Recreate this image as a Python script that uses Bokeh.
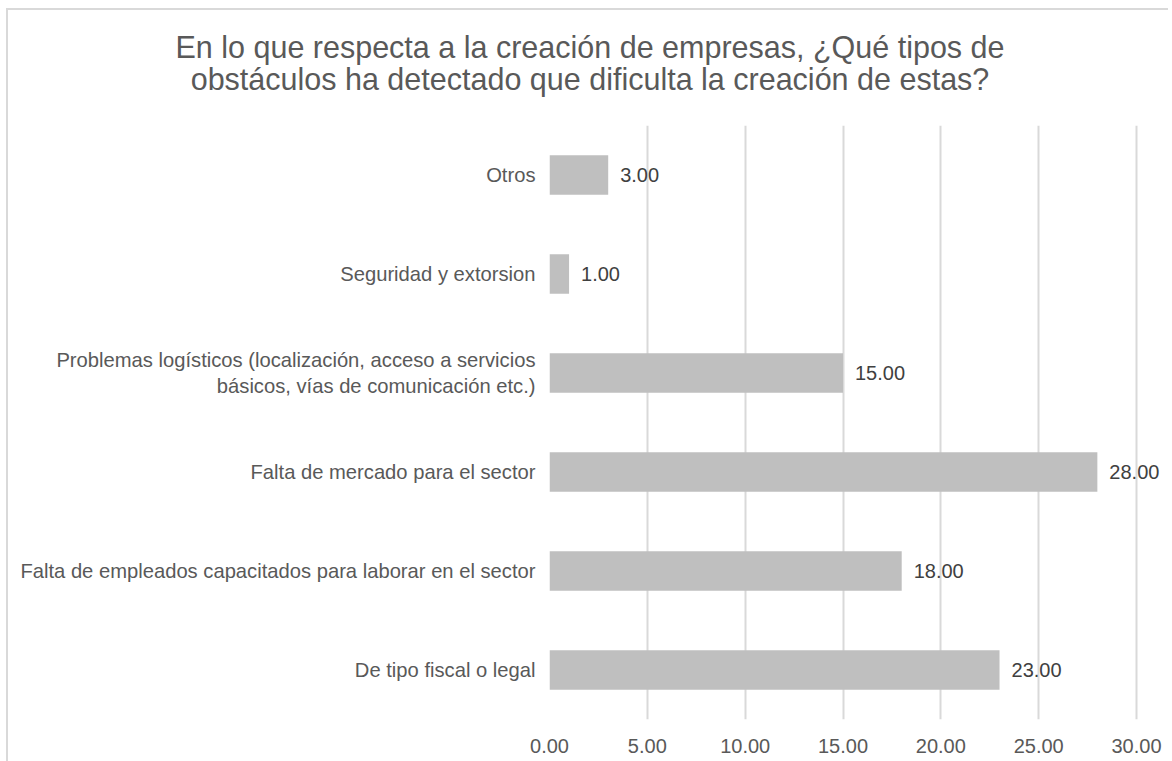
from bokeh.plotting import figure
from bokeh.models import ColumnDataSource, LabelSet, Div, FactorRange, Range1d, FixedTicker, NumeralTickFormatter
from bokeh.core.properties import value
from bokeh.layouts import column
from bokeh.embed import file_html
from bokeh.resources import INLINE

# ---- data ----
title_lines = [
    "En lo que respecta a la creación de empresas, ¿Qué tipos de",
    "obstáculos ha detectado que dificulta la creación de estas?",
]
categories = [
    "De tipo fiscal o legal",
    "Falta de empleados capacitados para laborar en el sector",
    "Falta de mercado para el sector",
    "Problemas logísticos (localización, acceso a servicios\nbásicos, vías de comunicación etc.)",
    "Seguridad y extorsion",
    "Otros",
]
values = [23.0, 18.0, 28.0, 15.0, 1.0, 3.0]
x_ticks = [0, 5, 10, 15, 20, 25, 30]

FONT = "Liberation Sans"
TXT = "#595959"

src = ColumnDataSource(dict(
    cat=categories,
    val=values,
    lab=[f"{v:.2f}" for v in values],
))

# frame spans 549..1168 px on the page, with 30 at 1136
X_END = 30 * (1168 - 549) / (1136 - 549)

p = figure(
    width=1160, height=651,
    y_range=FactorRange(factors=categories, range_padding=0),
    x_range=Range1d(0, X_END),
    output_backend="svg", toolbar_location=None,
    min_border_left=541, min_border_right=0,
    min_border_top=15, min_border_bottom=42,
)
p.outline_line_color = None
p.background_fill_color = "white"
p.border_fill_color = "white"

p.hbar(y="cat", left=0, right="val", height=0.4, source=src,
       fill_color="#bfbfbf", line_color=None)

labels = LabelSet(x="val", y="cat", text="lab", source=src,
                  x_offset=12, text_baseline="middle", text_align="left",
                  text_font=value(FONT), text_font_size="20px", text_color="#404040")
p.add_layout(labels)

# x axis
p.xaxis.ticker = FixedTicker(ticks=x_ticks)
p.xaxis.formatter = NumeralTickFormatter(format="0.00")
p.xaxis.axis_line_color = None
p.xaxis.major_tick_line_color = None
p.xaxis.minor_tick_line_color = None
p.xaxis.major_tick_out = 0
p.xaxis.major_label_standoff = 19
p.xaxis.major_label_text_font = FONT
p.xaxis.major_label_text_font_size = "20px"
p.xaxis.major_label_text_color = TXT

# y axis
p.yaxis.axis_line_color = None
p.yaxis.major_tick_line_color = None
p.yaxis.minor_tick_line_color = None
p.yaxis.major_tick_out = 0
p.yaxis.major_label_standoff = 14
p.yaxis.major_label_text_font = FONT
p.yaxis.major_label_text_font_size = "20.2px"
p.yaxis.major_label_text_color = TXT
p.yaxis.major_label_text_line_height = 1.15

p.xgrid.grid_line_color = "#d9d9d9"
p.xgrid.grid_line_width = 2
p.xgrid.ticker = FixedTicker(ticks=x_ticks)
p.ygrid.grid_line_color = None

title_html = (
    f'<div style="width:1160px;text-align:center;font-family:\'{FONT}\',Arial,sans-serif;'
    f'font-size:30.5px;line-height:32px;color:{TXT};padding-top:21px;padding-left:4px;">'
    + "<br>".join(title_lines) + "</div>"
)
title = Div(text=title_html, width=1160, height=100, styles={"margin": "0", "padding": "0"})

layout = column(title, p, spacing=0,
                styles={"border-top": "2px solid #d9d9d9", "border-left": "2px solid #d9d9d9",
                        "background-color": "white", "margin-left": "6px", "margin-top": "8px"})

open("out.html", "w").write(file_html(layout, INLINE))
